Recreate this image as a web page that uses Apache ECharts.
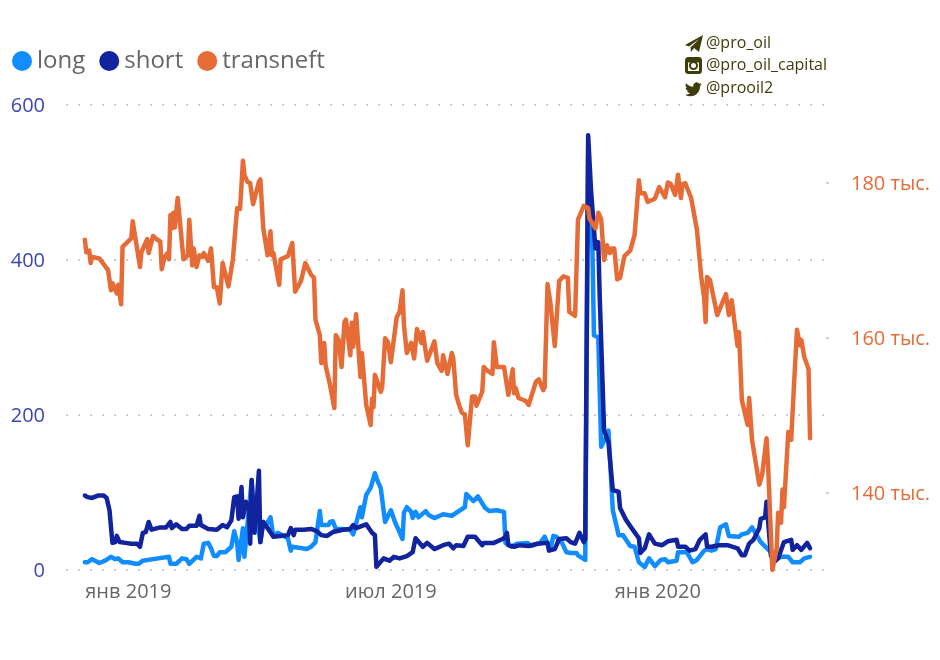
<!DOCTYPE html>
<html>
<head>
<meta charset="utf-8">
<style>
html, body { margin: 0; padding: 0; background: #fff; }
#main { width: 940px; height: 660px; }
</style>
<script src="https://cdn.jsdelivr.net/npm/echarts@6/dist/echarts.min.js"></script>
</head>
<body>
<div id="main"></div>
<script>
// [days since 2018-12-17, value]
const longPoints = [
	[0,10],[2,10],[3,9],[5,14],[10,9],[14,12],[18,17],[21,14],[23,15],[26,10],[30,10],[35,8],[37,8],[40,12],[47,14],[58,17],[59,8],[63,8],[67,15],[70,14],
	[72,8],[77,17],[78,18],[80,15],[82,34],[85,35],[87,28],[89,18],[91,18],[93,23],[97,23],[101,30],[103,50],[104,48],[105,35],[106,13],[109,54],[110,17],[115,116],[116,81],
	[117,68],[118,74],[121,36],[123,62],[125,58],[128,68],[130,43],[133,48],[138,43],[140,41],[142,25],[143,30],[150,28],[153,27],[156,30],[159,36],[162,76],[163,58],[168,58],[169,62],
	[171,63],[173,53],[177,53],[183,52],[185,46],[190,81],[191,68],[194,97],[197,106],[200,125],[202,114],[204,106],[207,62],[208,61],[211,77],[214,61],[216,53],[217,54],[219,40],[220,74],
	[222,81],[225,75],[226,67],[228,75],[230,68],[235,76],[237,71],[241,67],[247,72],[253,70],[262,81],[263,98],[268,89],[271,95],[276,80],[279,76],[284,77],[289,75],[290,35],[294,30],
	[298,34],[305,35],[308,31],[314,35],[317,43],[320,30],[321,27],[323,44],[325,43],[329,35],[332,23],[335,22],[339,22],[340,19],[345,13],[347,535],[349,450],[350,410],[351,303],[354,300],
	[356,159],[359,170],[361,180],[364,77],[368,45],[371,45],[376,31],[379,30],[382,10],[386,4],[389,15],[393,5],[397,13],[400,14],[402,10],[408,12],[409,23],[415,23],[419,10],[422,13],
	[427,25],[429,27],[432,25],[435,27],[438,55],[442,59],[444,44],[451,43],[453,46],[457,48],[460,55],[462,49],[466,36],[473,23],[475,15],[481,17],[485,17],[488,10],[493,10],[496,15],[500,17]
];

const shortPoints = [
	[0,96],[2,94],[3,95],[5,93],[9,96],[13,96],[15,93],[17,77],[18,75],[19,35],[21,36],[22,44],[24,36],[28,35],[32,34],[36,34],[38,30],[40,48],[42,49],[44,62],
	[46,52],[52,55],[56,55],[59,62],[60,54],[63,59],[67,53],[70,53],[72,57],[77,57],[79,70],[80,58],[85,53],[91,52],[95,58],[98,55],[101,64],[103,94],[105,95],[106,66],
	[108,107],[109,68],[111,88],[113,84],[114,34],[115,116],[117,48],[120,128],[121,36],[123,62],[126,54],[130,43],[135,44],[140,45],[142,54],[144,45],[145,52],[151,52],[156,53],[160,50],
	[163,45],[167,44],[171,49],[178,52],[183,53],[185,58],[187,54],[194,59],[198,48],[200,45],[201,4],[206,15],[210,12],[213,17],[217,15],[222,18],[226,23],[228,41],[233,30],[236,35],
	[241,27],[247,32],[251,34],[254,28],[256,32],[261,31],[264,43],[269,43],[274,32],[275,35],[282,35],[288,40],[290,43],[291,48],[292,32],[296,30],[300,32],[306,31],[312,34],[319,35],
	[320,25],[324,27],[327,40],[332,41],[335,36],[338,34],[341,48],[344,36],[345,40],[347,561],[349,490],[352,415],[354,423],[355,352],[358,180],[361,165],[364,103],[368,101],[369,80],[373,65],
	[377,54],[382,41],[383,22],[386,28],[389,46],[393,34],[398,32],[402,37],[408,39],[409,30],[414,30],[417,25],[421,27],[424,39],[428,46],[429,30],[432,30],[437,32],[443,32],[450,28],
	[453,19],[455,19],[458,34],[461,39],[465,54],[466,66],[469,68],[470,88],[473,19],[475,10],[478,15],[482,36],[487,39],[488,26],[491,32],[494,26],[498,35],[500,28]
];

// thousands
const transneftPoints = [
	[0,172.6],[1,171],[3,171.2],[4,169.6],[5,170.4],[10,170.2],[16,168.7],[18,166.1],[19,167],[22,165.7],[23,166.8],[25,164.3],[26,171.7],[32,172.8],[33,175],[38,169.1],[39,171],[43,172.7],[44,170.9],[47,173.1],
	[50,172.6],[52,172.4],[53,168.8],[55,170.4],[57,170.9],[58,170.1],[59,175.8],[60,174.1],[61,176.1],[62,174.2],[64,178],[68,170.1],[71,170.6],[72,175.2],[74,169.3],[75,171.5],[77,169.1],[79,170.6],[81,170.4],[82,170.9],
	[85,169.9],[87,171.5],[89,166.5],[91,166.5],[93,164.4],[95,169.6],[99,166.6],[102,170],[105,176.7],[107,176.6],[109,182.8],[110,181],[112,180.1],[114,179.9],[116,177.2],[117,177.3],[120,180.1],[121,180.4],[123,174.1],[124,173.9],
	[126,170.6],[128,173.7],[129,170.6],[130,170.9],[134,166.8],[135,170.1],[140,170.5],[143,172.2],[145,165.9],[149,167.3],[152,169.6],[156,168.1],[158,167.7],[159,162.3],[162,160.3],[163,156.7],[165,159.3],[166,156.4],[169,153.9],[172,150.9],
	[173,160.3],[175,159.7],[177,156.2],[179,162],[180,162.3],[183,157.7],[184,161.9],[185,158.8],[187,163],[190,154.9],[191,158],[194,151.3],[197,148.7],[198,152.1],[199,151],[200,155.2],[204,153],[205,153.6],[207,159.9],[209,159.4],
	[211,156.8],[215,162.6],[217,163.3],[219,166.1],[220,161.6],[222,158],[225,159.3],[227,157.3],[229,161.1],[232,159.3],[233,160.7],[236,157],[241,159.5],[243,156.7],[246,155.7],[247,157.7],[250,155.3],[253,158],[254,157.3],[256,152.6],
	[258,151.3],[260,150.3],[262,150.1],[264,146.1],[267,152.4],[269,152.4],[270,151.2],[274,153],[275,156.2],[276,156.4],[277,155.8],[281,155.3],[282,159.4],[284,156.2],[289,156.2],[292,152.6],[295,155.9],[296,152.8],[297,153.5],[299,152.2],
	[304,151.8],[306,151.3],[311,154.3],[313,154.6],[316,153.2],[317,153.6],[319,166.9],[321,164.4],[324,158.9],[327,167.3],[330,167.9],[333,167.7],[334,163.3],[338,162.8],[340,175.2],[344,177],[347,176.7],[348,175.3],[352,174.1],[354,176.1],
	[356,175.2],[358,170],[360,171.9],[362,170.9],[363,171.5],[365,171.5],[367,167.5],[369,167.7],[372,170.5],[376,171.2],[379,173.2],[382,180.3],[383,178.6],[386,178.6],[388,177.5],[389,177.3],[393,177.9],[396,179.4],[400,178.1],[402,180],
	[404,179.8],[407,178.4],[409,181],[411,178],[412,179.8],[414,179.9],[418,178],[422,173.9],[425,167.8],[427,165.1],[428,162],[429,167.8],[431,167.4],[436,162.9],[442,165.6],[444,162.9],[446,164.8],[450,158.9],[451,160.7],[453,151.9],
	[457,148.7],[458,152.2],[460,146.8],[465,141],[467,142.3],[470,147],[471,143.8],[474,130],[477,132.8],[478,137.4],[480,136.1],[481,140.4],[482,138.1],[485,147.8],[487,146.8],[489,154.1],[491,161],[493,159],[494,159.7],[496,157.5],
	[499,155.9],[500,147]
];

const monthTicks = [30, 211, 395];
const monthLabels = ['янв 2019', 'июл 2019', 'янв 2020'];
const rightTicks = [140, 160, 180];
const handles = ['@pro_oil', '@pro_oil_capital', '@prooil2'];

const uiFont = '"Open Sans", "Noto Sans", sans-serif';
const inkColor = '#3f3d0b';

function lineSeries(name, color, points, yAxisIndex) {
	return {
		name: name,
		type: 'line',
		yAxisIndex: yAxisIndex,
		data: points,
		showSymbol: false,
		symbol: 'none',
		lineStyle: { color: color, width: 4.5, cap: 'round', join: 'round' },
		itemStyle: { color: color },
		emphasis: { disabled: true }
	};
}

function handleText(text, y) {
	return {
		type: 'text', x: 706, y: y,
		style: { text: text, fill: inkColor, font: '16px ' + uiFont }
	};
}

const birdPath = 'M23.95 4.57a10 10 0 0 1-2.82.77 4.96 4.96 0 0 0 2.16-2.72c-.95.55-2 .96-3.13 1.19a4.92 4.92 0 0 0-8.38 4.48C7.69 8.1 4.07 6.13 1.64 3.16a4.92 4.92 0 0 0 1.52 6.57 4.9 4.9 0 0 1-2.23-.61v.06a4.92 4.92 0 0 0 3.95 4.83 5 5 0 0 1-2.21.08 4.93 4.93 0 0 0 4.6 3.42A9.87 9.87 0 0 1 0 19.54a13.94 13.94 0 0 0 7.55 2.21c9.05 0 14-7.5 14-13.98 0-.21 0-.42-.02-.63A9.94 9.94 0 0 0 24 4.59z';
echarts.graphic.registerShape('birdIcon', echarts.graphic.extendPath(birdPath, {}));

const myChart = echarts.init(document.getElementById('main'), null, { renderer: 'canvas' });
const option = {
	animation: false,
	backgroundColor: '#fff',
	textStyle: { fontFamily: uiFont },
	legend: {
		left: 12, top: 49, padding: 0,
		icon: 'circle', itemWidth: 20, itemHeight: 20, itemGap: 14,
		textStyle: { fontSize: 24, color: '#666', fontFamily: uiFont },
		data: ['long', 'short', 'transneft']
	},
	grid: { left: 66, right: 114, top: 105, bottom: 90 },
	xAxis: {
		type: 'value',
		min: -13,
		max: 511,
		axisLine: { show: false },
		axisTick: { show: false },
		splitLine: { show: false },
		axisLabel: {
			customValues: monthTicks,
			margin: 12,
			fontSize: 20,
			color: '#666',
			formatter: (value) => monthLabels[monthTicks.indexOf(value)]
		}
	},
	yAxis: [
		{
			type: 'value', min: 0, max: 600, interval: 200,
			axisLine: { show: false },
			axisTick: { show: false },
			axisLabel: { margin: 21, fontSize: 20, color: '#3a47b4', verticalAlign: 'top', lineHeight: 3 },
			splitLine: { show: true, lineStyle: { color: '#cfcfcf', width: 2, type: [2, 10] } }
		},
		{
			type: 'value', min: 130, max: 190, position: 'right',
			axisLine: { show: false },
			axisTick: { show: true, customValues: rightTicks, length: 3, lineStyle: { color: '#cfcfcf', width: 2 } },
			splitLine: { show: false },
			axisLabel: {
				customValues: rightTicks,
				margin: 25,
				fontSize: 20,
				color: '#E66C37',
				verticalAlign: 'top',
				lineHeight: 4,
				formatter: (value) => value + ' тыс.'
			}
		}
	],
	series: [
		lineSeries('long', '#118DFF', longPoints, 0),
		lineSeries('short', '#12239E', shortPoints, 0),
		lineSeries('transneft', '#E66C37', transneftPoints, 1)
	],
	graphic: [
		handleText(handles[0], 35),
		handleText(handles[1], 57),
		handleText(handles[2], 80),
		{ type: 'polygon', x: 685, y: 35, shape: { points: [[0,10],[18,0],[14,17],[9,13],[6,17],[5.5,12.5],[14,4],[4,11.5]] }, style: { fill: inkColor } },
		{ type: 'rect', x: 686.5, y: 58.5, shape: { width: 14, height: 14, r: 2 }, style: { fill: 'none', stroke: inkColor, lineWidth: 3 } },
		{ type: 'rect', x: 686.5, y: 58.5, shape: { width: 14, height: 4 }, style: { fill: inkColor } },
		{ type: 'circle', x: 693.5, y: 65.5, shape: { r: 3.5 }, style: { fill: '#fff', stroke: inkColor, lineWidth: 2 } },
		{ type: 'birdIcon', x: 685, y: 81, scaleX: 0.7, scaleY: 0.7, shape: { x: 0, y: 0, width: 24, height: 24 }, style: { fill: inkColor } }
	]
};
myChart.setOption(option);
</script>
</body>
</html>
